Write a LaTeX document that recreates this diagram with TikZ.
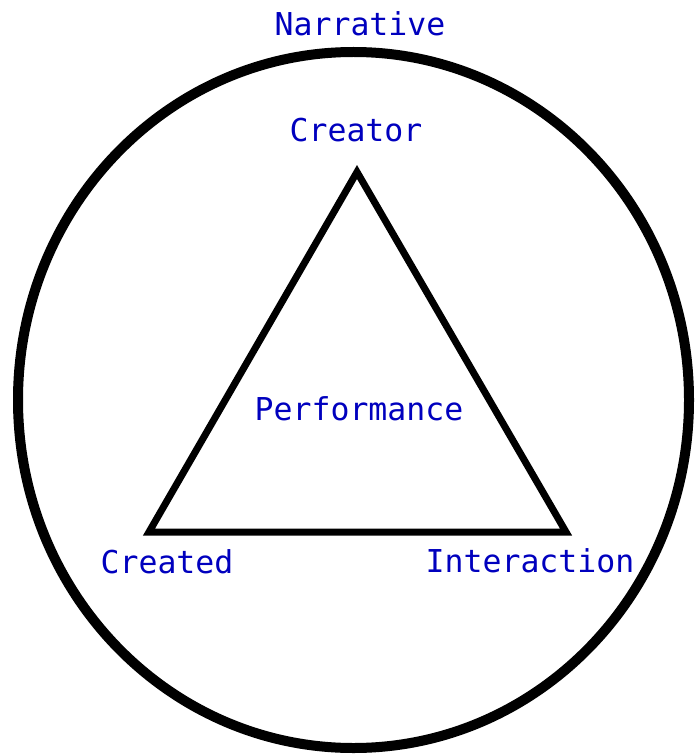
\documentclass[tikz,border=0pt]{standalone}
\usepackage{fontspec}
\setmonofont{DejaVu Sans Mono}
\definecolor{lblblue}{RGB}{0,0,190}
\begin{document}
\begin{tikzpicture}[x=1pt,y=-1pt,
  lbl/.style={text=lblblue,font=\ttfamily\fontsize{31.5}{38}\selectfont,anchor=base,inner sep=0pt},
  ring/.style={line width=10pt},
  tri/.style={line width=7pt,line join=miter}]
\useasboundingbox (0,0) rectangle (694,754);
\draw[ring] (353.5,400) ellipse [x radius=335.5, y radius=348];
\coordinate (top) at (357,172);
\coordinate (bl) at (149,532);
\coordinate (br) at (566,532);
\draw[tri] (top) -- (bl) -- (br) -- cycle;
\node[lbl] (narr) at (360,36) {Narrative};
\node[lbl] (creator) at (356,142) {Creator};
\node[lbl] (perf) at (359,420) {Performance};
\node[lbl] (created) at (167,573) {Created};
\node[lbl] (inter) at (530,572) {Interaction};
\end{tikzpicture}
\end{document}
